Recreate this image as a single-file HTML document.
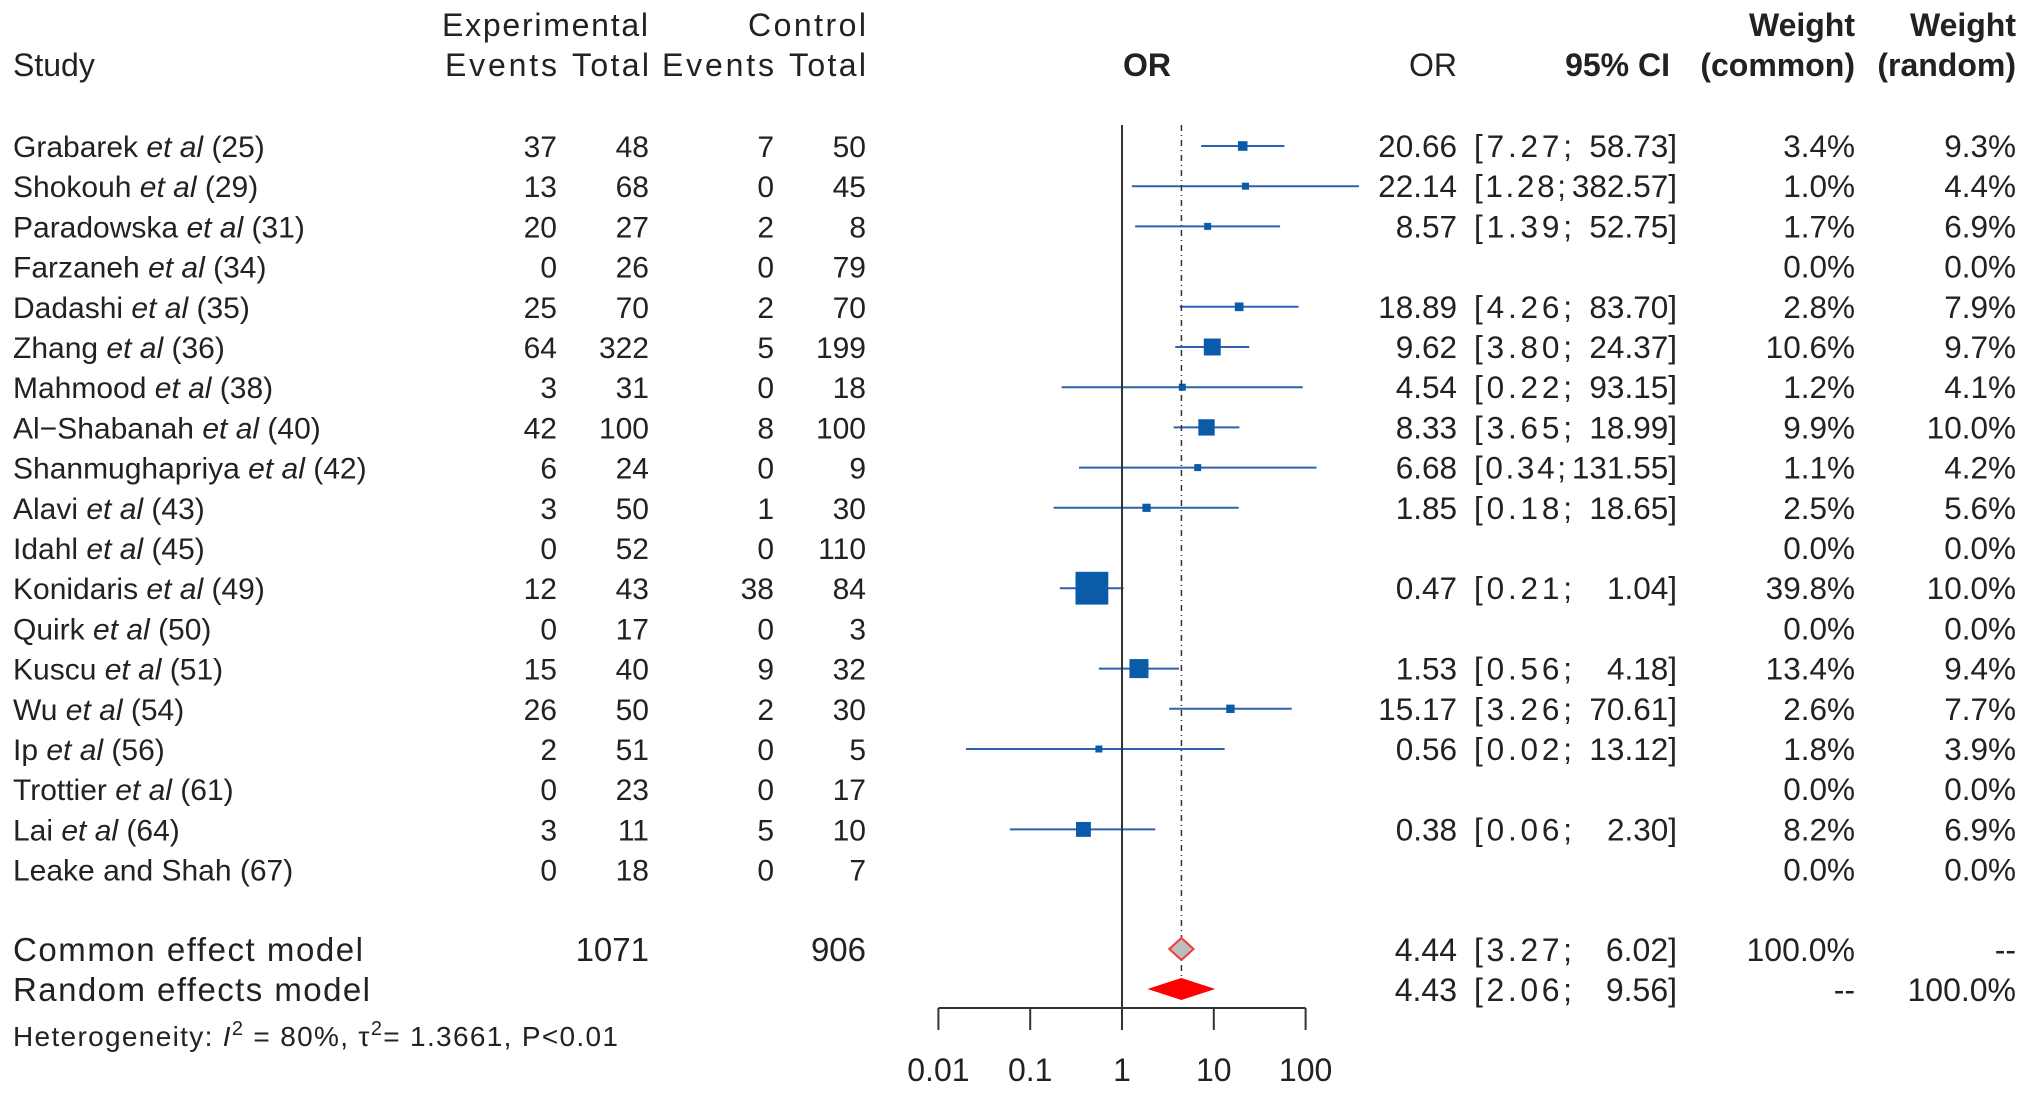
<!DOCTYPE html>
<html><head><meta charset="utf-8"><style>
html,body{margin:0;padding:0;background:#fff}
svg{display:block}
text{font-family:"Liberation Sans",Arial,sans-serif;fill:#222}
</style></head><body>
<svg id="plot" width="2031" height="1095" viewBox="0 0 2031 1095" xmlns="http://www.w3.org/2000/svg">
<g id="hdr" font-size="32">
<text x="648" y="36" text-anchor="end" textLength="206">Experimental</text>
<text x="866" y="36" text-anchor="end" textLength="118">Control</text>
<text x="13" y="76">Study</text>
<text x="557" y="76" text-anchor="end" textLength="112">Events</text>
<text x="649" y="76" text-anchor="end" textLength="77">Total</text>
<text x="774" y="76" text-anchor="end" textLength="112">Events</text>
<text x="866" y="76" text-anchor="end" textLength="77">Total</text>
<text x="1147" y="76" text-anchor="middle" font-weight="bold">OR</text>
<text x="1457" y="76" text-anchor="end">OR</text>
<text x="1670" y="76" text-anchor="end" font-weight="bold">95% CI</text>
<text x="1855" y="36" text-anchor="end" font-weight="bold">Weight</text>
<text x="1855" y="76" text-anchor="end" font-weight="bold">(common)</text>
<text x="2016" y="36" text-anchor="end" font-weight="bold">Weight</text>
<text x="2016" y="76" text-anchor="end" font-weight="bold">(random)</text>
</g>
<g id="rows"></g>
<g id="marks"></g>
<g id="summary" font-size="33">
<text x="13" y="961" textLength="350">Common effect model</text>
<text x="649" y="961" text-anchor="end">1071</text>
<text x="866" y="961" text-anchor="end">906</text>
<text x="13" y="1001" textLength="357">Random effects model</text>
<text x="13" y="1046" font-size="28" textLength="605">Heterogeneity: <tspan font-style="italic">I</tspan><tspan dy="-11" font-size="20">2</tspan><tspan dy="11"> = 80%, τ</tspan><tspan dy="-11" font-size="20">2</tspan><tspan dy="11">= 1.3661, P&lt;0.01</tspan></text>
</g>
</svg>
<script>
const studies=["Grabarek","Shokouh","Paradowska","Farzaneh","Dadashi","Zhang","Mahmood","Al\u2212Shabanah","Shanmughapriya","Alavi","Idahl","Konidaris","Quirk","Kuscu","Wu","Ip","Trottier","Lai","Leake and Shah"];
const refs=[25,29,31,34,35,36,38,40,42,43,45,49,50,51,54,56,61,64,67];
const expEvents=[37,13,20,0,25,64,3,42,6,3,0,12,0,15,26,2,0,3,0];
const expTotal=[48,68,27,26,70,322,31,100,24,50,52,43,17,40,50,51,23,11,18];
const ctlEvents=[7,0,2,0,2,5,0,8,0,1,0,38,0,9,2,0,0,5,0];
const ctlTotal=[50,45,8,79,70,199,18,100,9,30,110,84,3,32,30,5,17,10,7];
const orVals=[20.66,22.14,8.57,null,18.89,9.62,4.54,8.33,6.68,1.85,null,0.47,null,1.53,15.17,0.56,null,0.38,null];
const ciLow=[7.27,1.28,1.39,null,4.26,3.80,0.22,3.65,0.34,0.18,null,0.21,null,0.56,3.26,0.02,null,0.06,null];
const ciHigh=[58.73,382.57,52.75,null,83.70,24.37,93.15,18.99,131.55,18.65,null,1.04,null,4.18,70.61,13.12,null,2.30,null];
const wCommon=[3.4,1.0,1.7,0.0,2.8,10.6,1.2,9.9,1.1,2.5,0.0,39.8,0.0,13.4,2.6,1.8,0.0,8.2,0.0];
const wRandom=[9.3,4.4,6.9,0.0,7.9,9.7,4.1,10.0,4.2,5.6,0.0,10.0,0.0,9.4,7.7,3.9,0.0,6.9,0.0];
const commonEst=[4.44,3.27,6.02];
const randomEst=[4.43,2.06,9.56];
const ticks=[0.01,0.1,1,10,100];
const tickLabels=["0.01","0.1","1","10","100"];

const NS="http://www.w3.org/2000/svg";
const X=v=>1122+Math.log10(v)*91.8;
const Y=i=>146+i*40.2;
const FS=30, NF=31.5;
const rows=document.getElementById('rows'),marks=document.getElementById('marks'),sumG=document.getElementById('summary');
function el(t,a,p){const e=document.createElementNS(NS,t);for(const k in a)e.setAttribute(k,a[k]);p.appendChild(e);return e;}
function txt(s,x,y,anchor,p,fs){const e=el('text',{x:x,y:y,'text-anchor':anchor,'font-size':fs||FS},p);e.textContent=s;return e;}
const f2=v=>v.toFixed(2);
function ciText(lo,hi,y,p,fs){
  const a=txt("["+f2(lo)+";",1474,y,'start',p,fs);
  a.setAttribute('textLength',hi>=100?92:98);
  txt(f2(hi)+"]",1677,y,'end',p,fs);
}
studies.forEach((s,i)=>{
  const y=Y(i)+11;
  const g=el('g',{},rows);
  
  
  const t=el('text',{x:13,y:y,'font-size':FS},g);
  if(s==="Leake and Shah"){t.textContent=s+" ("+refs[i]+")";}
  else{t.appendChild(document.createTextNode(s+" "));const it=el('tspan',{'font-style':'italic'},t);it.textContent="et al";t.appendChild(document.createTextNode(" ("+refs[i]+")"));}
  
  
  txt(String(expEvents[i]),557,y,'end',g);
  txt(String(expTotal[i]),649,y,'end',g);
  txt(String(ctlEvents[i]),774,y,'end',g);
  txt(String(ctlTotal[i]),866,y,'end',g);
  if(orVals[i]!==null){
    txt(f2(orVals[i]),1457,y,'end',g,NF);
    ciText(ciLow[i],ciHigh[i],y,g,NF);
    const ln=el('line',{x1:X(ciLow[i]),x2:X(ciHigh[i]),y1:Y(i),y2:Y(i),stroke:'#2e62b0','stroke-width':2},marks);
    
    
    const sz=Math.max(5.2*Math.sqrt(wCommon[i]),7);
    const sq=el('rect',{x:X(orVals[i])-sz/2,y:Y(i)-sz/2,width:sz,height:sz,fill:'#0b5ca8'},marks);
    
    
  }
  txt(wCommon[i].toFixed(1)+"%",1855,y,'end',g,NF);
  txt(wRandom[i].toFixed(1)+"%",2016,y,'end',g,NF);
});
const v1=el('line',{x1:X(1),x2:X(1),y1:125,y2:1008,stroke:'#333','stroke-width':2},marks);


const vd=el('line',{x1:X(commonEst[0]),x2:X(commonEst[0]),y1:125,y2:980,stroke:'#333','stroke-width':1.5,'stroke-dasharray':'6 4 1 4'},marks);


function diamond(est,yc,h,fill,stroke,name){
  const p=[[X(est[1]),yc],[X(est[0]),yc-h/2],[X(est[2]),yc],[X(est[0]),yc+h/2]].map(a=>a.join(',')).join(' ');
  const d=el('polygon',{points:p,fill:fill,stroke:stroke,'stroke-width':2},marks);
  
  
}
diamond(commonEst,949,22,'#bdbdbd','#e8403a','common-diamond');
diamond(randomEst,989,20,'#ff0000','#ff0000','random-diamond');
[[commonEst,961],[randomEst,1001]].forEach(([e,y])=>{
  txt(f2(e[0]),1457,y,'end',sumG,32);
  ciText(e[1],e[2],y,sumG,32);
});
txt("100.0%",1855,961,'end',sumG,32);
txt("--",2016,961,'end',sumG,32);
txt("--",1855,1001,'end',sumG,32);
txt("100.0%",2016,1001,'end',sumG,32);
const ax=el('line',{x1:X(ticks[0]),x2:X(ticks[ticks.length-1]),y1:1008,y2:1008,stroke:'#333','stroke-width':2},marks);


ticks.forEach((t,i)=>{
  const tk=el('line',{x1:X(t),x2:X(t),y1:1008,y2:1030,stroke:'#333','stroke-width':2},marks);
  
  
  const l=txt(tickLabels[i],X(t),1081,'middle',marks,32);
  
  
});
</script>
</body></html>
